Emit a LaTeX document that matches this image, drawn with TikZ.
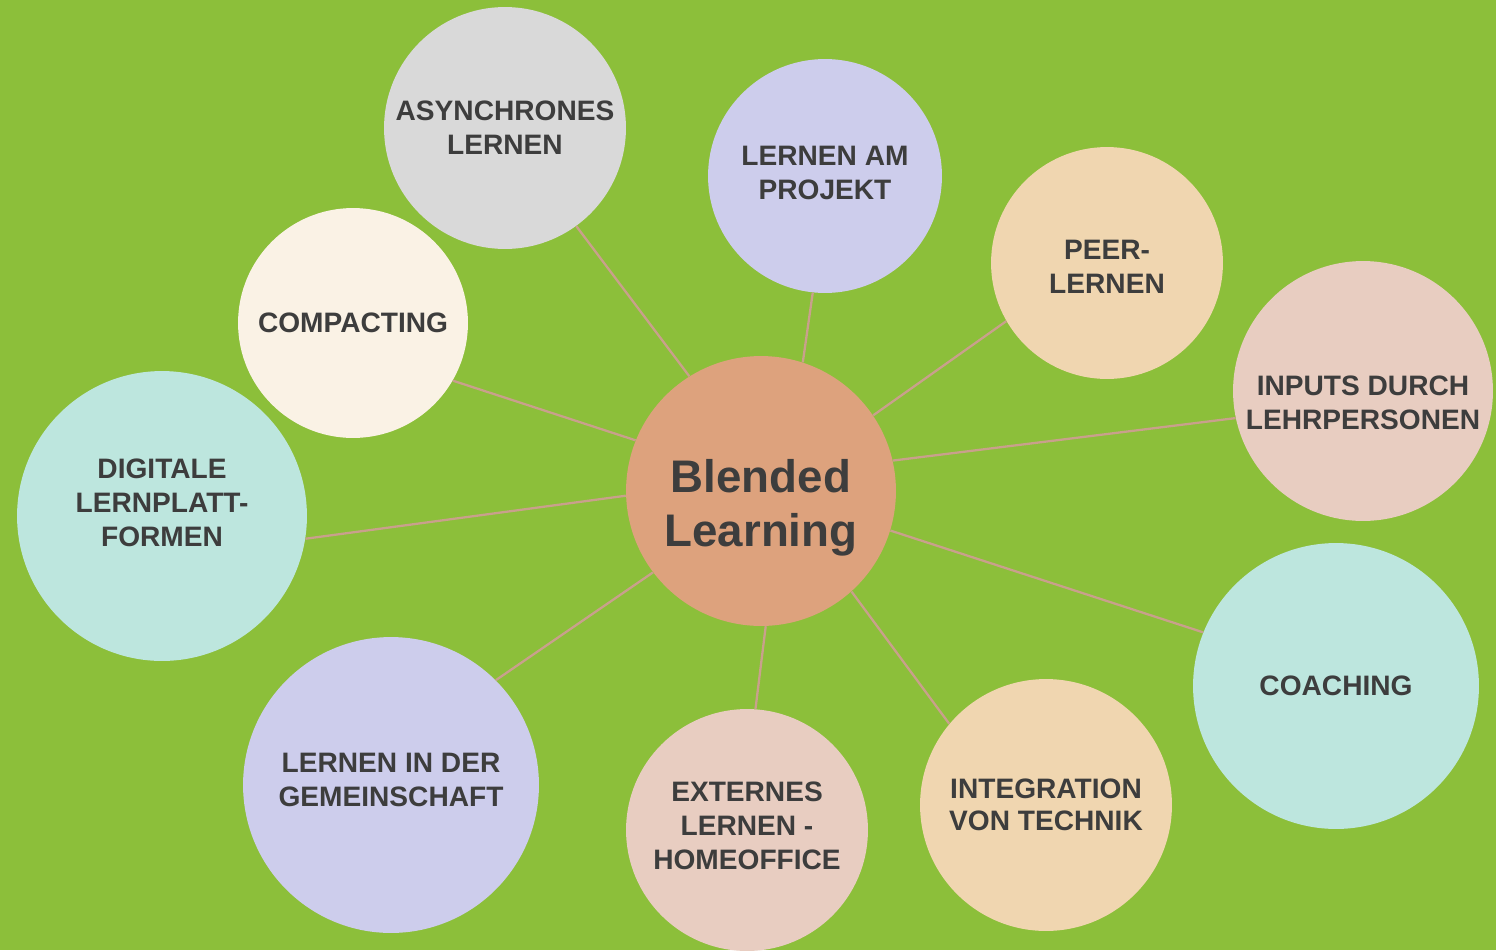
\documentclass[tikz,border=0pt]{standalone}
\usepackage{fontspec}
\setmainfont{Liberation Sans}
\usetikzlibrary{positioning}

\definecolor{bggreen}{HTML}{8CBF3A}
\definecolor{centresalmon}{HTML}{DDA27D}
\definecolor{softgray}{HTML}{D9D9D9}
\definecolor{lavender}{HTML}{CDCDEC}
\definecolor{peach}{HTML}{F0D6B0}
\definecolor{rosebeige}{HTML}{E8CDC1}
\definecolor{mint}{HTML}{BDE6DE}
\definecolor{cream}{HTML}{FAF2E5}
\definecolor{spokecol}{HTML}{C9A08C}
\definecolor{txtgray}{HTML}{3D3D3D}

\tikzset{
  bubble/.style 2 args={circle, fill=#1, minimum size=#2*0.04cm, inner sep=0pt},
  lbl/.style={font=\bfseries\fontsize{16}{19.3}\selectfont, text=txtgray, align=center},
  spoke/.style={draw=spokecol, line width=1.3pt}
}

\begin{document}
\begin{tikzpicture}[x=0.02cm, y=-0.02cm]
        % page and background
        \clip (0,0) rectangle (1496,950);
        \fill[bggreen] (0,0) rectangle (1496,950);

        % centre bubble
        \node[bubble={centresalmon}{135},
              label={[lbl, font=\bfseries\fontsize{26}{30.5}\selectfont, yshift=-0.34cm]center:{Blended\\Learning}}]
              (blend) at (761,491) {};

        % outer bubbles
        \node[bubble={softgray}{121}, lbl] (async) at (505,128) {ASYNCHRONES\\LERNEN};
        \node[bubble={lavender}{117}, lbl, label={[lbl, yshift=0.06cm]center:{LERNEN AM\\PROJEKT}}] (projekt) at (825,176) {};
        \node[bubble={peach}{116}, lbl, label={[lbl, yshift=-0.08cm]center:{PEER-\\LERNEN}}] (peer) at (1107,263) {};
        \node[bubble={rosebeige}{130}, label={[lbl, yshift=-0.24cm]center:{INPUTS DURCH\\LEHRPERSONEN}}] (inputs) at (1363,391) {};
        \node[bubble={mint}{143}, lbl] (coach) at (1336,686) {COACHING};
        \node[bubble={peach}{126}, label={[lbl, font=\bfseries\fontsize{16}{18.2}\selectfont]center:{INTEGRATION\\VON TECHNIK}}] (technik) at (1046,805) {};
        \node[bubble={rosebeige}{121}, label={[lbl, yshift=0.08cm]center:{EXTERNES\\LERNEN -\\HOMEOFFICE}}] (extern) at (747,830) {};
        \node[bubble={lavender}{148}, label={[lbl, yshift=0.1cm]center:{LERNEN IN DER\\GEMEINSCHAFT}}] (gemein) at (391,785) {};
        \node[bubble={mint}{145}, label={[lbl, yshift=0.26cm]center:{DIGITALE\\LERNPLATT-\\FORMEN}}] (digital) at (162,516) {};
        \node[bubble={cream}{115}, lbl] (compact) at (353,323) {COMPACTING};

        % spokes
        \draw[spoke] (blend.122) -- (async.-54);
        \draw[spoke] (blend.72) -- (projekt.-96);
        \draw[spoke] (blend.34) -- (peer.210);
        \draw[spoke] (blend.13) -- (inputs.192);
        \draw[spoke] (blend.-17) -- (coach.158);
        \draw[spoke] (blend.-48) -- (technik.140);
        \draw[spoke] (blend.-88) -- (extern.86);
        \draw[spoke] (blend.217) -- (gemein.45);
        \draw[spoke] (blend.182) -- (digital.-9);
        \draw[spoke] (blend.158) -- (compact.-30);
\end{tikzpicture}
\end{document}
